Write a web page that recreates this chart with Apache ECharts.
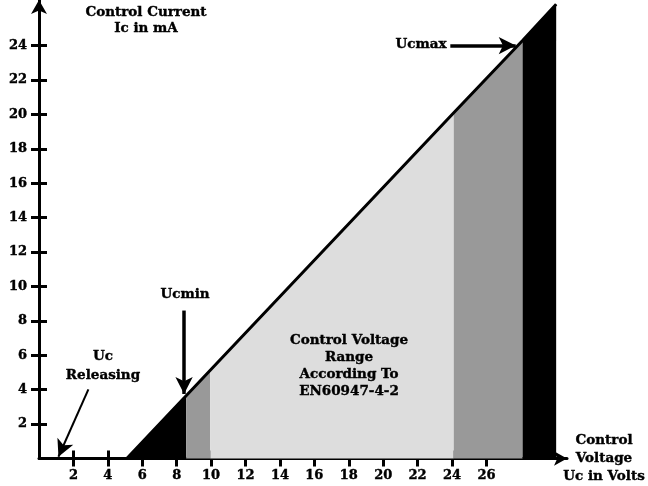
<!DOCTYPE html>
<html><head><meta charset="utf-8">
<script src="https://cdn.jsdelivr.net/npm/echarts@6/dist/echarts.min.js"></script>
<style>html,body{margin:0;padding:0;background:#fff}#c{width:648px;height:486px}</style>
</head><body><div id="c"></div>
<script>
// Tick values shown on the axes
const xTicks = [2, 4, 6, 8, 10, 12, 14, 16, 18, 20, 22, 24, 26];
const yTicks = [2, 4, 6, 8, 10, 12, 14, 16, 18, 20, 22, 24];
// Characteristic line points [Uc (V), Ic (mA)]
const curve = [[5.1, 0], [8.55, 3.65], [9.95, 5.13], [24.1, 20.1], [28.1, 24.3], [30.05, 26.4]];
// Zone boundaries along the curve (index pairs into curve)
const zones = [[0, 1], [1, 2], [2, 3], [3, 4], [4, 5]];
// Annotation arrows [from, to] in data units
const arrowUcmax = [[23.9, 24.0], [27.7, 24.0]];
const arrowUcmin = [[8.43, 8.6], [8.43, 3.75]];
const arrowRel = [[2.87, 4.02], [1.13, 0.1]];

const zoneColors = ['#000000', '#999999', '#dddddd', '#999999', '#000000'];
const FONT = '"DejaVu Serif", serif';
const chart = echarts.init(document.getElementById('c'));

const series = zones.map((z, i) => ({
  type: 'line', data: curve.slice(z[0], z[1] + 1), symbol: 'none', silent: true,
  lineStyle: { width: 0.8, color: zoneColors[i] }, areaStyle: { color: zoneColors[i], opacity: 1 }, z: 1
}));
series.push({
  type: 'line', data: curve, symbol: 'none', silent: true,
  lineStyle: { width: 3, color: '#000' }, z: 3,
  markLine: {
    silent: true, symbol: ['none', 'arrow'], symbolSize: [13, 17],
    lineStyle: { color: '#000', width: 3.5, type: 'solid' }, label: { show: false },
    data: [arrowUcmax, arrowUcmin].map(a => [{ coord: a[0] }, { coord: a[1] }])
      .concat([[{ coord: arrowRel[0], lineStyle: { width: 2 } }, { coord: arrowRel[1] }]])
  }
});

const labelStyle = { color: '#000', fontFamily: FONT, fontWeight: 'bold', fontSize: 13, textBorderColor: '#000', textBorderWidth: 0.4 };

function axisBase(ticks, showLabel, inside, extra) {
  return Object.assign({
    type: 'value', min: 0, splitLine: { show: false },
    axisLine: { show: false },
    axisTick: { show: true, inside: inside, length: 8, customValues: ticks, lineStyle: { color: '#000', width: 3 } },
    axisLabel: { show: showLabel }
  }, extra);
}

const txt = (text, x, y, lh) => ({
  type: 'text', x: x, y: y, z: 100,
  style: { text: text, font: 'bold 13.5px ' + FONT, fill: '#000', stroke: '#000', lineWidth: 0.4,
    align: 'center', verticalAlign: 'middle', lineHeight: lh || 17 }
});

chart.setOption({
  animation: false,
  grid: { left: 39, right: 81, top: 0, bottom: 27.5 },
  xAxis: [
    axisBase(xTicks, true, true, { max: 30.68,
      axisLabel: Object.assign({ show: true, customValues: xTicks, margin: 11 }, labelStyle),
      axisLine: { show: true, onZero: false, symbol: ['none', 'arrow'], symbolSize: [11, 13], lineStyle: { color: '#000', width: 3 } } }),
    axisBase(xTicks, false, false, { max: 30.68, position: 'bottom' })
  ],
  yAxis: [
    axisBase(yTicks, true, false, { max: 26.65,
      axisLabel: Object.assign({ show: true, customValues: yTicks, margin: 12 }, labelStyle),
      axisLine: { show: true, onZero: false, symbol: ['none', 'arrow'], symbolSize: [12, 14], lineStyle: { color: '#000', width: 3 } } }),
    axisBase(yTicks, false, true, { max: 26.65, position: 'left' })
  ],
  series: series,
  graphic: [
    txt('Control Current\nIc in mA', 146, 20, 16),
    txt('Ucmax', 421, 44),
    txt('Ucmin', 185, 294),
    txt('Uc\nReleasing', 103, 366, 19),
    txt('Control Voltage\nRange\nAccording To\nEN60947-4-2', 349, 366, 16.7),
    txt('Control\nVoltage\nUc in Volts', 604, 458, 18)
  ]
});
</script></body></html>
